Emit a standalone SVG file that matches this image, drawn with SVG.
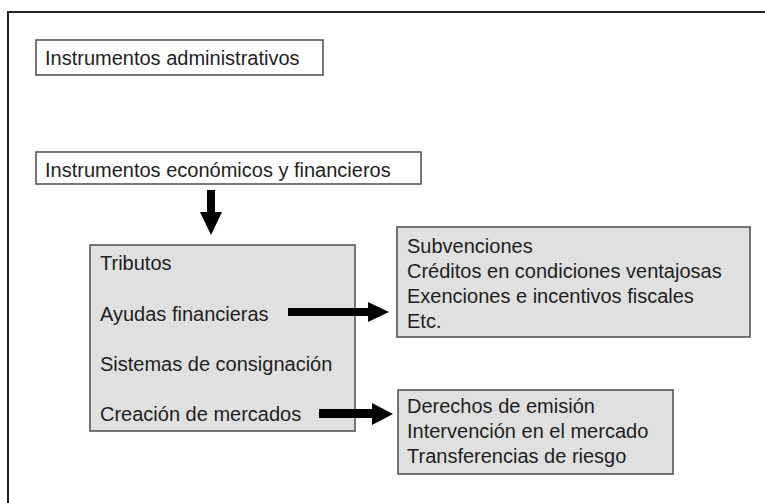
<svg xmlns="http://www.w3.org/2000/svg" width="765" height="503" viewBox="0 0 765 503">
<style>
text{font-family:"Liberation Sans",Arial,sans-serif;font-size:20px;fill:#1e1e1e}
.w{fill:#ffffff;stroke:#555;stroke-width:1.6}
.g{fill:#e0e0e0;stroke:#555;stroke-width:1.6}
.frame{fill:none;stroke:#222;stroke-width:2}
.arr{fill:#000}
</style>
<rect x="0" y="0" width="765" height="503" fill="#ffffff"/>
<path class="frame" d="M8,503 V12 H765"/>
<g id="n-admin"><rect class="w" x="36" y="40" width="287" height="35"/><text x="45" y="65">Instrumentos administrativos</text></g>
<g id="n-econ"><rect class="w" x="36" y="152" width="385" height="32"/><text x="45" y="177">Instrumentos económicos y financieros</text></g>
<g id="n-trib"><rect class="g" x="90" y="245" width="265" height="186"/>
<text x="100" y="270">Tributos</text>
<text x="100" y="321">Ayudas financieras</text>
<text x="100" y="371">Sistemas de consignación</text>
<text x="100" y="421">Creación de mercados</text></g>
<g id="n-ayudas"><rect class="g" x="397" y="227" width="353" height="110"/>
<text x="407" y="253">Subvenciones</text>
<text x="407" y="278">Créditos en condiciones ventajosas</text>
<text x="407" y="303">Exenciones e incentivos fiscales</text>
<text x="407" y="328">Etc.</text></g>
<g id="n-merc"><rect class="g" x="398" y="390" width="275" height="84"/>
<text x="407" y="413">Derechos de emisión</text>
<text x="407" y="438">Intervención en el mercado</text>
<text x="407" y="463">Transferencias de riesgo</text></g>
<g id="connectors">
<path class="arr" d="M207,190 H215 V212 H222 L211,235 L200,212 H207 Z"/>
<path class="arr" d="M288,308 H368 V302 L389,312 L368,322 V316 H288 Z"/>
<path class="arr" d="M319,409 H372 V403 L393,414 L372,425 V418 H319 Z"/>
</g>
</svg>
